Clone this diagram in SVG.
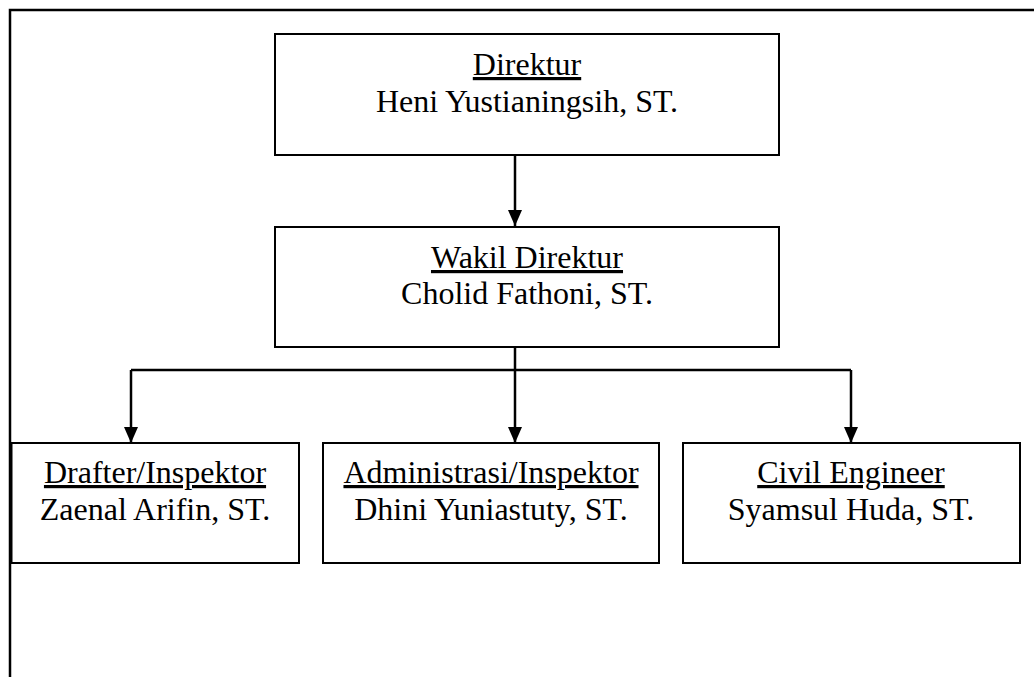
<svg xmlns="http://www.w3.org/2000/svg" width="1034" height="677" viewBox="0 0 1034 677">
<style>
.box{fill:#fff;stroke:#000;stroke-width:2}
.t{font-family:"Liberation Serif","Times New Roman",serif;font-size:32px;fill:#000;text-anchor:middle}
.u{text-decoration:underline}
.c{fill:none;stroke:#000;stroke-width:2.5}
</style>
<defs>
<marker id="ah" markerUnits="userSpaceOnUse" markerWidth="16" markerHeight="16" refX="16" refY="8" orient="auto" viewBox="0 0 16 16">
<path d="M0,1 L16,8 L0,15 Z" fill="#000"/>
</marker>
</defs>
<rect width="1034" height="677" fill="#fff"/>
<g id="frame">
<path d="M10,677 L10,10 L1034,10" fill="none" stroke="#000" stroke-width="2.5"/>
</g>
<g id="connectors">
<line class="c" x1="515" y1="155" x2="515" y2="226" marker-end="url(#ah)"/>
<line class="c" x1="515" y1="346" x2="515" y2="370"/>
<line class="c" x1="131" y1="370" x2="851" y2="370"/>
<line class="c" x1="131" y1="370" x2="131" y2="443" marker-end="url(#ah)"/>
<line class="c" x1="515" y1="370" x2="515" y2="443" marker-end="url(#ah)"/>
<line class="c" x1="851" y1="370" x2="851" y2="443" marker-end="url(#ah)"/>
</g>
<g id="direktur">
<rect class="box" x="275" y="34" width="504" height="121"/>
<text class="t u" x="527" y="75">Direktur</text>
<text class="t" x="527" y="112">Heni Yustianingsih, ST.</text>
</g>
<g id="wakil">
<rect class="box" x="275" y="227" width="504" height="120"/>
<text class="t u" x="527" y="268">Wakil Direktur</text>
<text class="t" x="527" y="304">Cholid Fathoni, ST.</text>
</g>
<g id="drafter">
<rect class="box" x="11.5" y="443" width="287.5" height="120"/>
<text class="t u" x="155" y="483">Drafter/Inspektor</text>
<text class="t" x="155" y="520">Zaenal Arifin, ST.</text>
</g>
<g id="administrasi">
<rect class="box" x="323" y="443" width="336" height="120"/>
<text class="t u" x="491" y="483">Administrasi/Inspektor</text>
<text class="t" x="491" y="520">Dhini Yuniastuty, ST.</text>
</g>
<g id="civil">
<rect class="box" x="683" y="443" width="337" height="120"/>
<text class="t u" x="851" y="483">Civil Engineer</text>
<text class="t" x="851" y="520">Syamsul Huda, ST.</text>
</g>
</svg>
